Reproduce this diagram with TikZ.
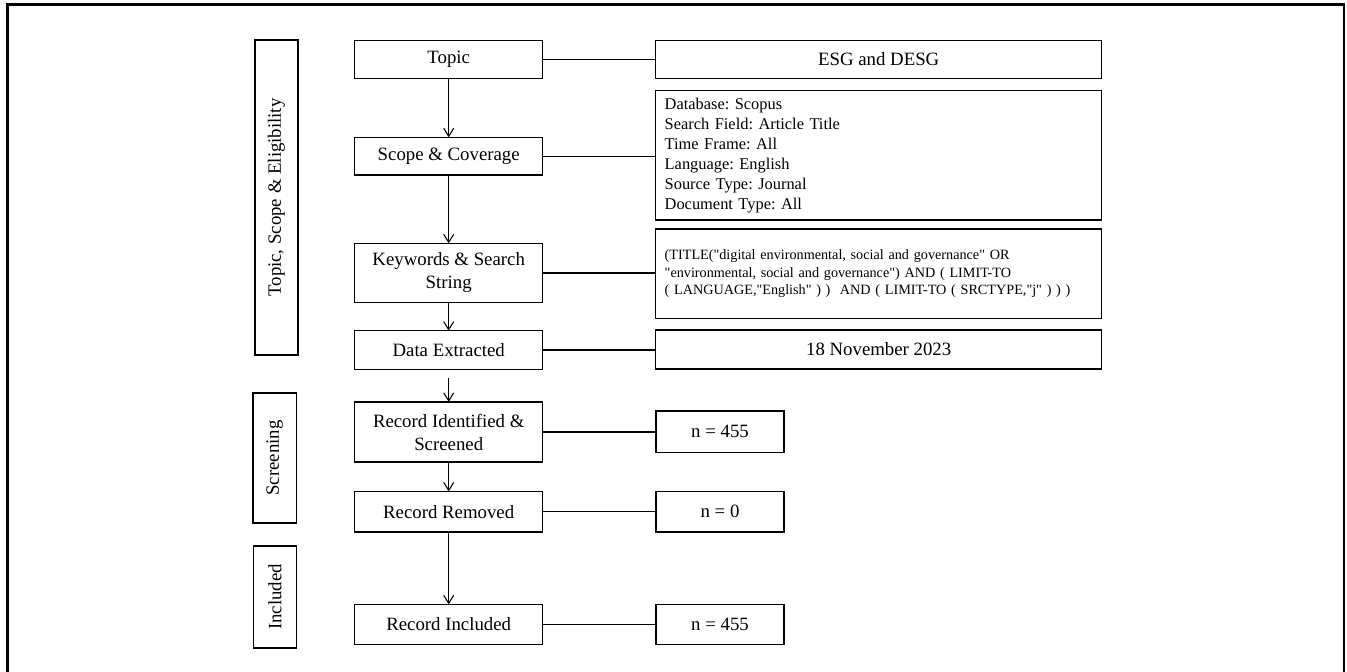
\documentclass[tikz,border=0pt]{standalone}
\usepackage{fontspec}
\setmainfont{Liberation Serif}[Ligatures=TeXOff]
\usetikzlibrary{arrows.meta}
\frenchspacing

\begin{document}
\begin{tikzpicture}[x=1pt,y=-1pt,
  every node/.style={inner sep=0pt, outer sep=0pt},
  stepbox/.style={draw, line width=1.4pt, minimum width=188pt, align=center,
    font=\fontsize{18.8}{23}\selectfont},
  infobox/.style={draw, line width=1.4pt, minimum width=446pt, align=center,
    font=\fontsize{18.8}{23}\selectfont},
  countbox/.style={draw, line width=1.4pt, minimum width=128pt, align=center,
    font=\fontsize{18.8}{23}\selectfont},
  stagebox/.style={draw, line width=1.4pt, rotate=90, align=center,
    font=\fontsize{18.8}{23}\selectfont},
  link/.style={line width=1.1pt},
  flow/.style={line width=1.1pt, -{Straight Barb[length=8pt,width=10pt,line width=1.1pt]}},
]
\useasboundingbox (0,0) rectangle (1347,672);
\begin{scope}
  \clip (0,0) rectangle (1347,672);
  \draw[line width=2.6pt] (7.5,4.5) rectangle (1344,690);
\end{scope}

% stage labels on the left
\node[stagebox, minimum width=315pt, minimum height=43pt] (stage1) at (276.5,197.5) {Topic, Scope \& Eligibility};
\node[stagebox, minimum width=129.7pt, minimum height=43.5pt] (stage2) at (274.6,458) {Screening};
\node[stagebox, minimum width=102pt, minimum height=42.8pt] (stage3) at (275,597) {Included};

% main steps
\node[stepbox, minimum height=38pt] (topic) at (448.7,59.2) {Topic};
\node[stepbox, minimum height=37.7pt] (scope) at (448.7,156.2) {Scope \& Coverage};
\node[stepbox, minimum height=59.4pt] (kw) at (448.7,273) {Keywords \& Search\\String};
\node[stepbox, minimum height=38.7pt] (data) at (448.7,350) {Data Extracted};
\node[stepbox, minimum height=60.3pt] (ident) at (448.7,432) {Record Identified \&\\Screened};
\node[stepbox, minimum height=40.7pt] (removed) at (448.7,511.8) {Record Removed};
\node[stepbox, minimum height=40.3pt] (incl) at (448.7,624.5) {Record Included};

% details on the right
\node[infobox, minimum height=37.6pt] (esg) at (878.7,59.5) {ESG and DESG};
\node[infobox, minimum height=129.3pt, text width=428pt, align=left,
  font=\fontsize{16.4}{20}\selectfont] (scopeinfo) at (878.7,155.3)
  {Database: Scopus\\Search Field: Article Title\\Time Frame: All\\Language: English\\Source Type: Journal\\Document Type: All};
\node[infobox, minimum height=89.3pt, text width=428pt, align=left,
  font=\fontsize{14.2}{17.5}\selectfont] (kwinfo) at (878.7,273.7)
  {(TITLE("digital environmental, social and governance" OR\\
   "environmental, social and governance") AND ( LIMIT-TO\\
   ( LANGUAGE,"English" ) )\ \ AND ( LIMIT-TO ( SRCTYPE,"j" ) ) )};
\node[infobox, minimum height=39pt] (date) at (878.7,349.5) {18 November 2023};
\node[countbox, minimum height=41.5pt] (n1) at (720,431.7) {n = 455};
\node[countbox, minimum height=40.7pt] (n2) at (720,511.8) {n = 0};
\node[countbox, minimum height=40.3pt] (n3) at (720,624.5) {n = 455};

% flow arrows
\coordinate (below) at ([yshift=-8.6pt]data.south);
\draw[flow] (topic) -- (scope);
\draw[flow] (scope) -- (kw);
\draw[flow] (kw) -- (data);
\draw[flow] (below) -- (ident);
\draw[flow] (ident) -- (removed);
\draw[flow] (removed) -- (incl);

% horizontal links
\draw[link] (topic.east) -- (topic.east -| esg.west);
\draw[link] (scope.east) -- (scope.east -| scopeinfo.west);
\draw[link] (kw.east) -- (kw.east -| kwinfo.west);
\draw[link] (data.east) -- (data.east -| date.west);
\draw[link] (ident.east) -- (ident.east -| n1.west);
\draw[link] (removed.east) -- (removed.east -| n2.west);
\draw[link] (incl.east) -- (incl.east -| n3.west);
\end{tikzpicture}
\end{document}
